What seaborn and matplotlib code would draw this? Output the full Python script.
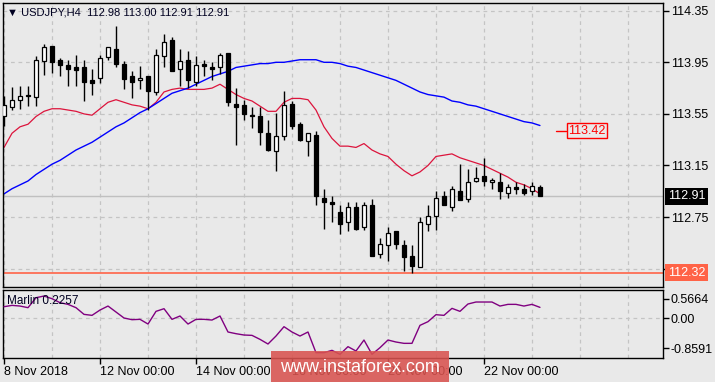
import numpy as np
import pandas as pd
import seaborn as sns
import matplotlib.pyplot as plt
import matplotlib.transforms as mtransforms
from matplotlib.patches import Rectangle

# USDJPY H4 candles
opens = [113.53, 113.60, 113.66, 113.70, 113.68, 113.96, 114.08, 113.97, 113.93, 113.91,
         113.91, 113.81, 113.83, 113.99, 114.05, 113.94, 113.84, 113.81, 113.84, 113.72,
         114.00, 114.12, 113.90, 113.97, 113.80, 113.94, 113.91, 113.91, 114.02, 113.63,
         113.62, 113.54, 113.53, 113.40, 113.26, 113.38, 113.63, 113.47, 113.34, 113.39,
         112.90, 112.87, 112.79, 112.71, 112.83, 112.67, 112.84, 112.46, 112.53, 112.64,
         112.53, 112.45, 112.36, 112.70, 112.76, 112.91, 112.83, 112.95, 112.89, 113.03,
         113.07, 113.02, 113.02, 112.94, 112.98, 112.97, 112.95, 112.98]
highs = [113.69, 113.76, 113.77, 113.77, 114.00, 114.09, 114.08, 113.98, 113.97, 114.01,
         113.97, 113.90, 114.01, 114.07, 114.23, 113.96, 113.88, 113.92, 113.84, 114.05,
         114.17, 114.15, 114.05, 114.04, 114.00, 113.97, 113.95, 114.02, 114.02, 113.75,
         113.66, 113.60, 113.60, 113.50, 113.56, 113.73, 113.65, 113.49, 113.40, 113.42,
         112.97, 112.91, 112.84, 112.87, 112.87, 112.87, 112.89, 112.59, 112.67, 112.64,
         112.57, 112.53, 112.75, 112.84, 112.95, 112.95, 112.99, 113.16, 113.12, 113.14,
         113.21, 113.05, 113.09, 113.01, 113.02, 113.01, 113.02, 113.00]
lows = [113.46, 113.58, 113.59, 113.61, 113.61, 113.85, 113.87, 113.84, 113.77, 113.77,
        113.65, 113.70, 113.79, 113.97, 113.91, 113.74, 113.67, 113.74, 113.58, 113.70,
        113.91, 113.88, 113.77, 113.75, 113.77, 113.84, 113.81, 113.86, 113.61, 113.31,
        113.50, 113.44, 113.31, 113.26, 113.11, 113.35, 113.43, 113.34, 113.22, 112.84,
        112.66, 112.71, 112.62, 112.64, 112.65, 112.65, 112.45, 112.43, 112.41, 112.50,
        112.33, 112.32, 112.36, 112.64, 112.65, 112.84, 112.80, 112.88, 112.87, 113.02,
        112.99, 112.97, 112.89, 112.90, 112.93, 112.92, 112.92, 112.91]
closes = [113.62, 113.66, 113.69, 113.69, 113.97, 114.07, 113.95, 113.93, 113.90, 113.89,
          113.80, 113.79, 113.98, 114.07, 113.94, 113.82, 113.80, 113.83, 113.73, 114.01,
          114.11, 113.88, 113.96, 113.81, 113.93, 113.92, 113.90, 114.01, 113.64, 113.60,
          113.55, 113.53, 113.41, 113.27, 113.38, 113.62, 113.46, 113.35, 113.40, 112.91,
          112.87, 112.85, 112.70, 112.83, 112.66, 112.84, 112.45, 112.54, 112.63, 112.54,
          112.44, 112.37, 112.71, 112.76, 112.90, 112.84, 112.97, 112.88, 113.02, 113.05,
          113.03, 113.04, 112.95, 112.98, 112.97, 112.94, 112.99, 112.91]

ma_red = [113.29, 113.40, 113.45, 113.47, 113.53, 113.57, 113.59, 113.59, 113.58, 113.57,
          113.55, 113.54, 113.59, 113.64, 113.66, 113.64, 113.62, 113.61, 113.59, 113.64,
          113.72, 113.74, 113.75, 113.74, 113.74, 113.74, 113.75, 113.78, 113.74, 113.70,
          113.67, 113.65, 113.61, 113.57, 113.57, 113.64, 113.67, 113.67, 113.66, 113.58,
          113.45, 113.36, 113.30, 113.30, 113.29, 113.32, 113.27, 113.24, 113.22, 113.16,
          113.11, 113.07, 113.10, 113.15, 113.22, 113.23, 113.24, 113.21, 113.19, 113.17,
          113.15, 113.12, 113.09, 113.06, 113.02, 113.00, 112.97, 112.93]
ma_blue = [112.93, 112.97, 113.00, 113.03, 113.08, 113.12, 113.16, 113.19, 113.23, 113.27,
           113.30, 113.33, 113.37, 113.41, 113.45, 113.48, 113.52, 113.56, 113.59, 113.63,
           113.67, 113.71, 113.73, 113.75, 113.78, 113.81, 113.84, 113.86, 113.88, 113.91,
           113.92, 113.93, 113.94, 113.94, 113.95, 113.95, 113.96, 113.97, 113.97, 113.97,
           113.95, 113.95, 113.94, 113.92, 113.91, 113.89, 113.87, 113.85, 113.83, 113.81,
           113.78, 113.75, 113.72, 113.70, 113.69, 113.68, 113.65, 113.64, 113.62, 113.61,
           113.59, 113.57, 113.55, 113.53, 113.51, 113.49, 113.48, 113.46]

marlin = [0.332, 0.370, 0.351, 0.304, 0.589, 0.637, 0.561, 0.447, 0.399, 0.304,
          0.113, 0.085, 0.237, 0.351, 0.180, 0.009, -0.039, -0.029, -0.163, 0.199,
          0.275, -0.029, 0.066, -0.163, -0.029, -0.029, -0.049, 0.066, -0.391, -0.439,
          -0.477, -0.487, -0.601, -0.734, -0.506, -0.239, -0.391, -0.506, -0.391, -0.982,
          -0.982, -0.915, -1.029, -0.810, -0.934, -0.620, -1.029, -0.839, -0.620, -0.677,
          -0.715, -0.715, -0.201, -0.096, 0.104, 0.085, 0.285, 0.199, 0.409, 0.466,
          0.466, 0.466, 0.351, 0.399, 0.399, 0.351, 0.399, 0.313]

price_ticks = [114.35, 113.95, 113.55, 113.15, 112.75, 112.35]
marlin_ticks = [0.5664, 0.0, -0.8591]
marlin_tick_labels = ["0.5664", "0.00", "-0.8591"]
date_pos = [0, 12, 24, 36, 48, 60]
date_labels = ["8 Nov 2018", "12 Nov 00:00", "14 Nov 00:00", "16 Nov 00:00",
               "20 Nov 00:00", "22 Nov 00:00"]
last_price = 112.91
support_level = 112.32
ma_label = 113.42

df = pd.DataFrame({"open": opens, "high": highs, "low": lows, "close": closes,
                   "ma_red": ma_red, "ma_blue": ma_blue, "marlin": marlin})
df["bar"] = np.arange(len(df))

bg = "#e9e9e9"
sns.set_theme(style="ticks", rc={"axes.facecolor": bg, "figure.facecolor": bg,
                                 "axes.edgecolor": "black", "axes.linewidth": 1.0})
plt.rcParams["font.family"] = ["Liberation Sans", "DejaVu Sans"]

fig = plt.figure(figsize=(7.15, 3.82), dpi=100)
ax = fig.add_axes([0.0035, 0.2487, 0.9233, 0.7442])
ax2 = fig.add_axes([0.0035, 0.0641, 0.9233, 0.1767])

xmin, xmax = -0.19, 82.34
grid_kw = dict(color="#c4c4c4", linestyle=(0, (3, 3)), linewidth=0.9)

# main price panel
ax.set_xlim(xmin, xmax)
ax.set_ylim(112.208, 114.412)
for gx in range(0, 84, 6):
    ax.axvline(gx, zorder=0, **grid_kw)
for gy in price_ticks:
    ax.axhline(gy, zorder=0, **grid_kw)

ax.axhline(last_price, color="#c0c0c0", lw=1, zorder=1)
ax.axhline(support_level, color="#ff6347", lw=1.2, zorder=1)

sns.lineplot(data=df, x="bar", y="ma_red", ax=ax, color="#dc143c", lw=0.9, zorder=2)
sns.lineplot(data=df, x="bar", y="ma_blue", ax=ax, color="#0000ff", lw=1.0, zorder=2)

up = df["close"] > df["open"]
ax.vlines(df["bar"], df["low"], df["high"], color="black", lw=1, zorder=3)
body_lo = np.minimum(df["open"], df["close"])
body_h = (df["close"] - df["open"]).abs()
ax.bar(df["bar"], body_h, bottom=body_lo, width=0.6,
       color=np.where(up, "white", "black"), edgecolor="black", linewidth=0.9, zorder=4)

ax.set_xlabel("")
ax.set_ylabel("")
ax.set_xticks([])
ax.yaxis.tick_right()
ax.set_yticks(price_ticks)
ax.set_yticklabels([f"{t:.2f}" for t in price_ticks])
ax.tick_params(axis="y", direction="out", length=4, width=1, color="black",
               labelsize=9, pad=2, labelcolor="black")

ax.text(0.007, 0.965, "\u25bc USDJPY,H4  112.98 113.00 112.91 112.91", transform=ax.transAxes,
        fontsize=8, color="#000020", va="center", ha="left")

trans = mtransforms.blended_transform_factory(ax.transAxes, ax.transData)
ax.text(1.008, last_price, f"{last_price:.2f}", transform=trans, fontsize=9, color="white",
        va="center", ha="left", zorder=6, clip_on=False,
        bbox=dict(boxstyle="square,pad=0.22", fc="black", ec="none"))
ax.text(1.008, support_level, f"{support_level:.2f}", transform=trans, fontsize=9, color="white",
        va="center", ha="left", zorder=6, clip_on=False,
        bbox=dict(boxstyle="square,pad=0.22", fc="#ff6347", ec="none"))
ax.plot([69.0, 70.3], [ma_label, ma_label], color="red", lw=1, zorder=5)
ax.text(70.55, ma_label, f"{ma_label:.2f}", fontsize=9, color="red", va="center", ha="left",
        zorder=6, bbox=dict(boxstyle="square,pad=0.12", fc=bg, ec="red", lw=1))

# Marlin indicator panel
ax2.set_xlim(xmin, xmax)
ax2.set_ylim(-1.12, 0.809)
for gx in range(0, 84, 6):
    ax2.axvline(gx, zorder=0, **grid_kw)
ax2.axhline(0, zorder=0, **grid_kw)
sns.lineplot(data=df, x="bar", y="marlin", ax=ax2, color="#800080", lw=1.0, zorder=3)
ax2.set_xlabel("")
ax2.set_ylabel("")
ax2.yaxis.tick_right()
ax2.set_yticks(marlin_ticks)
ax2.set_yticklabels(marlin_tick_labels)
ax2.tick_params(axis="y", direction="out", length=4, width=1, color="black",
                labelsize=9, pad=2, labelcolor="black")
ax2.set_xticks(date_pos)
ax2.set_xticklabels(date_labels, ha="left")
ax2.tick_params(axis="x", direction="out", length=4, width=1, color="black",
                labelsize=9, pad=2, labelcolor="black")
ax2.text(0.007, 0.84, "Marlin 0.2257", transform=ax2.transAxes, fontsize=8.5,
         color="#000020", va="center", ha="left", zorder=6)

# watermark
fig.patches.append(Rectangle((271 / 715, 0), 178 / 715, 31 / 382, transform=fig.transFigure,
                             fc="#d9534f", ec="none", alpha=0.88, zorder=10))
fig.text(360 / 715, 15 / 382, "www.instaforex.com", color="white", fontsize=13,
         ha="center", va="center", zorder=11)

fig.savefig("out.png", dpi=100, facecolor=bg)
